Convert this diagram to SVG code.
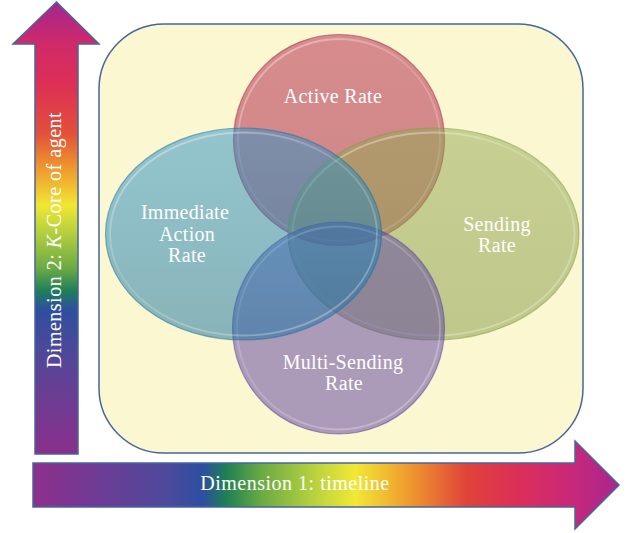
<svg xmlns="http://www.w3.org/2000/svg" width="627" height="533" viewBox="0 0 627 533">
  <style>
    .axis { stroke: #47659A; stroke-width: 1.5; stroke-linejoin: miter; }
    .axis-label { font-family: "Liberation Serif", "DejaVu Serif", serif; font-size: 20px; fill: #FFFFFF; letter-spacing: 0.5px; }
    .set { fill-opacity: 0.5; stroke-width: 1.2; stroke-opacity: 0.5; }
    .bevel { fill: none; stroke: url(#bevelGrad); stroke-width: 1.8; }
    .label { font-family: "Liberation Serif", "DejaVu Serif", serif; font-size: 20px; fill: #FFFFFF; text-anchor: middle; letter-spacing: 0.3px; }
  </style>
  <defs>
    <linearGradient id="gradV" gradientUnits="userSpaceOnUse" x1="0" y1="454" x2="0" y2="2">
      <stop offset="0" stop-color="#8B2F8C"/>
      <stop offset="0.19" stop-color="#5A4496"/>
      <stop offset="0.32" stop-color="#2E4F9F"/>
      <stop offset="0.36" stop-color="#1E7E5A"/>
      <stop offset="0.41" stop-color="#6AAA44"/>
      <stop offset="0.49" stop-color="#B5D03E"/>
      <stop offset="0.55" stop-color="#F0E733"/>
      <stop offset="0.63" stop-color="#EF9A2E"/>
      <stop offset="0.71" stop-color="#E2503A"/>
      <stop offset="0.82" stop-color="#DD2F56"/>
      <stop offset="0.91" stop-color="#CF2A6A"/>
      <stop offset="1" stop-color="#A3268F"/>
    </linearGradient>
    <linearGradient id="gradH" gradientUnits="userSpaceOnUse" x1="33" y1="0" x2="619" y2="0">
      <stop offset="0" stop-color="#8E2F8C"/>
      <stop offset="0.11" stop-color="#6E3B94"/>
      <stop offset="0.23" stop-color="#4C4A9C"/>
      <stop offset="0.29" stop-color="#2C4FA0"/>
      <stop offset="0.33" stop-color="#1E8052"/>
      <stop offset="0.39" stop-color="#6BAA44"/>
      <stop offset="0.48" stop-color="#B8D23E"/>
      <stop offset="0.55" stop-color="#F2E835"/>
      <stop offset="0.64" stop-color="#EF9B2E"/>
      <stop offset="0.74" stop-color="#E04339"/>
      <stop offset="0.83" stop-color="#DB2E5A"/>
      <stop offset="0.92" stop-color="#C8287A"/>
      <stop offset="1" stop-color="#A8268E"/>
    </linearGradient>
    <linearGradient id="redFill" x1="0" y1="0" x2="0" y2="1">
      <stop offset="0" stop-color="#B3204A"/>
      <stop offset="1" stop-color="#A0183C"/>
    </linearGradient>
    <linearGradient id="greenFill" x1="0" y1="0" x2="0" y2="1">
      <stop offset="0" stop-color="#93A852"/>
      <stop offset="1" stop-color="#849A44"/>
    </linearGradient>
    <linearGradient id="purpleFill" x1="0" y1="0" x2="0" y2="1">
      <stop offset="0" stop-color="#5A44A4"/>
      <stop offset="1" stop-color="#5C3C9E"/>
    </linearGradient>
    <linearGradient id="blueFill" x1="0" y1="0" x2="0" y2="1">
      <stop offset="0" stop-color="#2C93C8"/>
      <stop offset="0.6" stop-color="#1F7FB4"/>
      <stop offset="1" stop-color="#176E9E"/>
    </linearGradient>
    <linearGradient id="bevelGrad" x1="0" y1="0" x2="0.7" y2="1">
      <stop offset="0" stop-color="#FFFFFF" stop-opacity="0.45"/>
      <stop offset="0.5" stop-color="#FFFFFF" stop-opacity="0.15"/>
      <stop offset="1" stop-color="#FFFFFF" stop-opacity="0.3"/>
    </linearGradient>
  </defs>

  <g id="frame">
    <rect x="99" y="24" width="484" height="429" rx="65" ry="65" fill="#FBF7D1" stroke="#47659A" stroke-width="1.5"/>
  </g>

  <g id="axes">
    <path class="axis" fill="url(#gradV)" d="M56.5,2 L99,44 L78,44 L78,454 L35,454 L35,44 L13,44 Z"/>
    <path class="axis" fill="url(#gradH)" d="M33,463 L575,463 L575,441 L619,485 L575,529 L575,507 L33,507 Z"/>
    <text class="axis-label" transform="translate(61,240) rotate(-90)" text-anchor="middle">Dimension 2: <tspan font-style="italic">K</tspan>-Core of agent</text>
    <text class="axis-label" x="295" y="490" text-anchor="middle">Dimension 1: timeline</text>
  </g>

  <g id="active-rate">
    <ellipse class="set" cx="339" cy="140" rx="105.5" ry="105.5" fill="url(#redFill)" stroke="#A0183C"/>
    <ellipse class="bevel" cx="339" cy="140" rx="101" ry="101"/>
    <text class="label" x="333" y="103">Active Rate</text>
  </g>

  <g id="sending-rate">
    <ellipse class="set" cx="433.5" cy="234" rx="145.5" ry="106" fill="url(#greenFill)" stroke="#849A44"/>
    <ellipse class="bevel" cx="433.5" cy="234" rx="141" ry="101.5"/>
    <text class="label" x="497" y="231">Sending</text>
    <text class="label" x="497" y="252">Rate</text>
  </g>

  <g id="multi-sending-rate">
    <ellipse class="set" cx="338.5" cy="328" rx="106" ry="106" fill="url(#purpleFill)" stroke="#5C3C9E"/>
    <ellipse class="bevel" cx="338.5" cy="328" rx="101.5" ry="101.5"/>
    <text class="label" x="343" y="369">Multi-Sending</text>
    <text class="label" x="344" y="390">Rate</text>
  </g>

  <g id="immediate-action-rate">
    <ellipse class="set" cx="243.5" cy="234" rx="138" ry="106" fill="url(#blueFill)" stroke="#176E9E"/>
    <ellipse class="bevel" cx="243.5" cy="234" rx="133.5" ry="101.5"/>
    <text class="label" x="185" y="219">Immediate</text>
    <text class="label" x="187" y="241">Action</text>
    <text class="label" x="187" y="262">Rate</text>
  </g>
</svg>
